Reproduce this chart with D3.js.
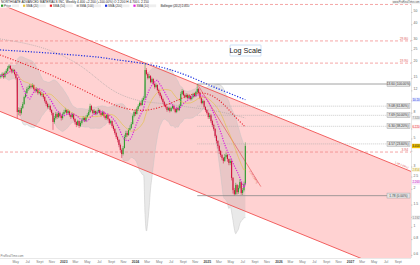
<!DOCTYPE html>
<html>
<head>
<meta charset="utf-8">
<script src="https://cdn.jsdelivr.net/npm/d3@7"></script>
<style>
html, body { margin: 0; padding: 0; background: #fff; }
svg { display: block; font-family: "Liberation Sans", Arial, sans-serif; }
</style>
</head>
<body>
<svg id="chart" width="420" height="265"></svg>
<script>
// weekly candles, first week and first open
const firstWeek = '2022-02-14';
const firstOpen = 15.4;

const closes = [
  15.73,16.32,15.45,16.62,17.23,18.20,18.88,17.87,16.92,17.55,
  16.32,15.17,8.17,8.47,8.02,8.78,9.45,10.73,11.54,12.42,
  12.64,13.11,12.88,13.35,12.42,11.97,12.42,11.54,11.76,11.13,
  11.34,10.73,9.98,9.45,8.95,9.11,8.47,8.02,6.81,7.32,
  7.88,7.46,8.02,7.59,7.32,7.88,8.17,8.47,8.02,8.32,
  7.73,7.46,7.88,7.19,6.81,6.45,6.93,6.33,6.69,7.06,
  7.32,6.93,7.46,7.73,8.17,9.11,8.47,8.02,8.32,7.88,
  8.17,8.47,8.02,7.73,8.17,7.59,7.32,7.73,7.19,6.69,
  6.93,6.33,5.99,5.57,5.18,4.91,4.48,4.09,3.80,4.24,
  5.18,5.57,5.37,5.89,6.10,6.56,7.59,8.17,7.88,8.63,
  9.11,9.62,9.28,10.16,10.54,17.55,16.32,15.17,15.73,14.10,
  14.90,13.60,12.88,13.35,12.19,11.54,10.93,10.35,9.80,9.28,
  8.95,8.47,8.78,8.32,8.78,9.11,8.63,8.17,8.78,8.47,
  9.11,11.34,11.97,11.13,10.73,11.13,10.54,10.93,10.35,10.73,
  11.34,10.93,11.76,12.42,11.54,10.54,9.62,9.98,8.95,8.47,
  8.02,7.46,7.73,6.93,6.45,5.99,5.28,4.82,4.40,4.01,
  3.73,3.53,3.35,3.60,3.73,3.47,3.23,3.35,2.46,1.97,
  1.83,2.16,1.90,2.05,2.28,1.87,1.97,2.20,4.40
];
const highs = [
  16.3,16.8,16.7,17.1,17.9,18.9,19.4,19.2,18.1,18.0,
  17.8,16.5,15.4,8.9,8.8,9.1,9.8,11.0,12.0,12.9,
  13.2,13.6,13.5,13.8,13.5,12.7,12.8,12.6,12.2,12.0,
  11.7,11.5,10.9,10.2,9.7,9.5,9.3,8.6,8.1,7.6,
  8.2,8.1,8.3,8.2,7.8,8.1,8.5,8.8,8.6,8.6,
  8.4,7.9,8.1,8.0,7.3,6.9,7.1,7.0,6.9,7.3,
  7.6,7.5,7.7,8.0,8.5,9.5,9.3,8.6,8.6,8.4,
  8.4,8.8,8.6,8.2,8.4,8.3,7.8,7.9,7.9,7.3,
  7.1,7.0,6.5,6.1,5.7,5.3,5.0,4.6,4.2,4.4,
  5.4,5.8,5.8,6.1,6.4,6.8,7.8,8.5,8.4,8.9,
  9.4,9.9,9.9,10.5,10.9,19.9,18.2,16.8,16.3,16.0,
  15.3,15.1,13.9,13.8,13.5,12.5,11.8,11.2,10.6,10.0,
  9.5,9.1,9.0,9.0,9.0,9.4,9.3,8.8,9.0,9.0,
  9.4,11.8,12.4,12.2,11.4,11.5,11.4,11.2,11.1,11.0,
  11.6,11.6,12.0,13.6,12.7,11.8,10.8,10.3,10.1,9.1,
  8.6,8.2,8.0,7.9,7.1,6.6,6.1,5.4,4.9,4.5,
  4.1,3.8,3.6,3.8,3.9,3.8,3.5,3.5,3.4,2.5,
  2.05,2.25,2.2,2.15,2.4,2.3,2.05,2.3,4.7
];
const lows = [
  15.0,15.4,15.0,15.2,16.3,16.9,17.8,17.4,16.5,16.6,
  15.9,14.8,7.3,7.7,7.6,7.8,8.6,9.3,10.5,11.3,
  12.0,12.3,12.5,12.6,12.1,11.6,11.7,11.2,11.3,10.9,
  10.8,10.4,9.7,9.1,8.7,8.7,8.2,7.7,5.9,6.6,
  7.1,7.2,7.3,7.4,7.0,7.1,7.7,8.0,7.8,7.8,
  7.5,7.2,7.3,7.0,6.5,6.2,6.3,6.1,6.2,6.5,
  6.9,6.8,6.8,7.3,7.6,8.0,8.3,7.8,7.8,7.7,
  7.7,8.0,7.8,7.5,7.6,7.4,7.1,7.1,7.0,6.5,
  6.5,6.1,5.8,5.4,5.0,4.7,4.3,3.9,3.53,3.7,
  4.2,5.0,5.2,5.3,5.8,6.0,6.5,7.4,7.6,7.8,
  8.5,9.0,9.1,9.2,10.0,10.4,15.9,14.8,15.0,13.8,
  13.8,13.3,12.5,12.6,11.9,11.2,10.6,10.1,9.5,9.0,
  8.7,8.2,8.3,8.1,8.2,8.6,8.4,8.0,8.0,8.3,
  8.3,9.0,11.1,10.9,10.5,10.5,10.3,10.3,10.1,10.1,
  10.5,10.7,10.8,11.5,11.3,10.3,9.4,9.4,8.7,8.2,
  7.8,7.2,7.2,6.7,6.2,5.8,5.1,4.6,4.2,3.8,
  3.6,3.4,3.2,3.3,3.5,3.3,3.1,3.1,2.35,1.85,
  1.78,1.80,1.82,1.84,2.0,1.81,1.80,1.92,2.15
];

// long moving averages
const sma200Dates = ['2022-02-10','2022-06-18','2022-10-24','2023-02-28','2023-07-07','2023-09-15','2024-02-12','2024-06-03','2024-08-19','2024-11-04','2025-01-20','2025-04-07','2025-07-14'];
const sma200Vals = [25.3, 24.6, 23.9, 23.0, 22.2, 21.2, 19.9, 18.2, 16.6, 14.9, 13.1, 11.8, 10.2];
const sma50Dates = ['2022-02-10','2022-07-29','2023-01-19','2023-07-07','2023-10-17','2024-02-12','2024-06-03','2024-09-03','2024-11-19','2025-01-20','2025-03-22','2025-05-18','2025-07-14'];
const sma50Vals = [23.1, 18.5, 14.1, 10.35, 8.78, 8.17, 9.11, 10.73, 11.8, 11.3, 9.62, 7.59, 6.22];
const sma100Dates = ['2022-02-10','2022-09-18','2023-04-11','2023-08-27','2024-01-27','2024-05-09','2024-09-24','2025-01-20','2025-05-02','2025-07-14'];
const sma100Vals = [30.9, 27.2, 19.2, 11.76, 9.80, 9.62, 8.95, 8.47, 7.88, 7.32];

// drawings
const channelUpper = [['2022-02-14', 58], ['2024-02-19', 19.9]];
const channelLower = ['2023-10-23', 3.35];
const trendLine = [['2024-11-11', 13.6], ['2025-10-01', 2.1]];
const levels = [57.9, 29.8, 19.9, 3.94];
const fibRatios = [1, 0.618, 0.5, 0.382, 0.236, 0];

const xDomain = ['2022-02-10', '2027-11-05'];
const yDomain = [0.572, 62.8];
const yTicks = [50, 40, 30, 25, 20, 15, 12, 10, 8, 6, 5, 4, 3, 2.5, 2, 1.5, 1.2, 1, 0.8, 0.6];
const monthNames = ['Jan','Feb','Mar','Apr','May','Jun','Jul','Aug','Sept','Oct','Nov','Dec'];

const legendItems = [
  ['#2e9d2e', 'Price'], ['#e6c33a', 'SMA (20)'], ['#e8202a', 'SMA (50)'],
  ['#9e9e9e', 'SMA (100)'], ['#1a2ee0', 'SMA (200)'], ['#e020e0', 'SMA (10)']
];

const W = 411, H = 258;
const parse = d3.timeParse('%Y-%m-%d');
const svg = d3.select('#chart');

const x = d3.scaleTime().domain(xDomain.map(parse)).range([0, W]);
const y = d3.scaleLog().domain(yDomain).range([H, 0]);

const start = parse(firstWeek);
const candles = closes.map((c, i) => ({
  date: d3.timeDay.offset(start, 7 * i),
  open: i === 0 ? firstOpen : closes[i - 1],
  close: c, high: highs[i], low: lows[i]
}));

svg.append('defs').append('clipPath').attr('id', 'plot')
  .append('rect').attr('width', W).attr('height', H);
const plot = svg.append('g').attr('clip-path', 'url(#plot)');

// regression channel
const u1 = [x(parse(channelUpper[0][0])), y(channelUpper[0][1])];
const u2 = [x(parse(channelUpper[1][0])), y(channelUpper[1][1])];
const slope = (u2[1] - u1[1]) / (u2[0] - u1[0]);
const upAt = px => u1[1] + slope * (px - u1[0]);
const la = [x(parse(channelLower[0])), y(channelLower[1])];
const loAt = px => la[1] + slope * (px - la[0]);

plot.append('path')
  .attr('d', `M0,${upAt(0)}L${W},${upAt(W)}L${W},${loAt(W)}L0,${loAt(0)}Z`)
  .attr('fill', '#ff2020').attr('fill-opacity', 0.2);

// bollinger bands (20, 2)
const bb = candles.map((d, i) => {
  const win = closes.slice(Math.max(0, i - 19), i + 1);
  const m = d3.mean(win);
  const sd = win.length > 1 ? Math.sqrt(d3.variance(win) * (win.length - 1) / win.length) : 0;
  return { date: d.date, mid: m, up: m + 2 * sd, lo: Math.max(m - 2 * sd, 0.2) };
});
plot.append('path').datum(bb)
  .attr('d', d3.area().x(d => x(d.date)).y0(d => y(d.lo)).y1(d => y(d.up)).curve(d3.curveMonotoneX))
  .attr('fill', '#9a9a9a').attr('fill-opacity', 0.22);
['up', 'lo'].forEach(k => {
  plot.append('path').datum(bb)
    .attr('d', d3.line().x(d => x(d.date)).y(d => y(d[k])).curve(d3.curveMonotoneX))
    .attr('fill', 'none').attr('stroke', '#c4c4c4').attr('stroke-width', 0.5);
});

// horizontal resistance levels
levels.forEach(v => {
  plot.append('line').attr('x1', 0).attr('x2', W).attr('y1', y(v)).attr('y2', y(v))
    .attr('stroke', '#f08080').attr('stroke-width', 0.7).attr('stroke-dasharray', '3,2');
});
levels.slice(1).forEach(v => {
  svg.append('text').attr('x', 408).attr('y', y(v) - 0.8).attr('text-anchor', 'end')
    .attr('font-size', 3.3).attr('fill', '#e06060').text(v.toFixed(2));
});

// fibonacci retracement
const hiIdx = 130 + d3.maxIndex(highs.slice(130));
const fibHigh = highs[hiIdx];
const fibLow = d3.min(lows.slice(hiIdx));
const fibX = x(candles[hiIdx].date);
fibRatios.forEach(r => {
  const v = fibLow + r * (fibHigh - fibLow);
  const solid = r === 1 || r === 0;
  svg.append('line').attr('x1', fibX).attr('x2', 388).attr('y1', y(v)).attr('y2', y(v))
    .attr('stroke', solid ? '#8a8a8a' : '#a8a8a8')
    .attr('stroke-width', solid ? 0.8 : 0.6)
    .attr('stroke-dasharray', solid ? null : '1,1');
  svg.append('rect').attr('x', 387).attr('y', y(v) - 2.6).attr('width', 23).attr('height', 5)
    .attr('fill', '#e4e4e4').attr('stroke', '#9a9a9a').attr('stroke-width', 0.4);
  svg.append('text').attr('x', 398.5).attr('y', y(v) + 1.1).attr('text-anchor', 'middle')
    .attr('font-size', 3.2).attr('fill', '#333')
    .text(`${v.toFixed(2)} (${(r * 100).toFixed(2)}%)`);
});

// channel lines and trend line
plot.append('line').attr('x1', 0).attr('y1', upAt(0)).attr('x2', W).attr('y2', upAt(W))
  .attr('stroke', '#f05050').attr('stroke-width', 0.9);
plot.append('line').attr('x1', 0).attr('y1', loAt(0)).attr('x2', W).attr('y2', loAt(W))
  .attr('stroke', '#f05050').attr('stroke-width', 0.9);
const t1 = [x(parse(trendLine[0][0])), y(trendLine[0][1])];
const t2 = [x(parse(trendLine[1][0])), y(trendLine[1][1])];
plot.append('line').attr('x1', t1[0]).attr('y1', t1[1]).attr('x2', t2[0]).attr('y2', t2[1])
  .attr('stroke', '#e84848').attr('stroke-width', 0.6);
const tAng = Math.atan2(t2[1] - t1[1], t2[0] - t1[0]) * 180 / Math.PI;
svg.append('text').attr('transform', `translate(${t2[0] - 4},${t2[1] - 3}) rotate(${tAng})`)
  .attr('font-size', 2.8).attr('fill', '#e06060').attr('text-anchor', 'end').text('-1.24 (-84%)');
const cAng = Math.atan(slope) * 180 / Math.PI;
svg.append('text').attr('transform', `translate(408,${upAt(408) - 1.5}) rotate(${cAng})`)
  .attr('font-size', 2.8).attr('fill', '#e06060').attr('text-anchor', 'end').text('1.38 (-94%)');

// long MAs
const lineFrom = (dates, vals) => dates.map((d, i) => ({ date: parse(d), v: vals[i] }));
const maLine = d3.line().x(d => x(d.date)).y(d => y(d.v)).curve(d3.curveBasis);
plot.append('path').datum(lineFrom(sma100Dates, sma100Vals)).attr('d', maLine)
  .attr('fill', 'none').attr('stroke', '#a0a0a0').attr('stroke-width', 0.6).attr('stroke-dasharray', '1,1');

// candles
const bw = 1.05;
const cg = plot.append('g');
candles.forEach(d => {
  const up = d.close >= d.open;
  const col = up ? '#2e9d2e' : '#d0103a';
  const cx = x(d.date);
  cg.append('line').attr('x1', cx).attr('x2', cx).attr('y1', y(d.high)).attr('y2', y(d.low))
    .attr('stroke', col).attr('stroke-width', 0.5);
  const top = y(Math.max(d.open, d.close)), bot = y(Math.min(d.open, d.close));
  cg.append('rect').attr('x', cx - bw / 2).attr('y', top).attr('width', bw)
    .attr('height', Math.max(0.6, bot - top)).attr('fill', col);
});

// SMA 20 (bollinger middle), SMA 10
plot.append('path').datum(bb)
  .attr('d', d3.line().x(d => x(d.date)).y(d => y(d.mid)).curve(d3.curveMonotoneX))
  .attr('fill', 'none').attr('stroke', '#e6c33a').attr('stroke-width', 0.6);
const sma10 = candles.map((d, i) => ({ date: d.date, v: d3.mean(closes.slice(Math.max(0, i - 9), i + 1)) }));
plot.append('path').datum(sma10)
  .attr('d', d3.line().x(d => x(d.date)).y(d => y(d.v)).curve(d3.curveMonotoneX))
  .attr('fill', 'none').attr('stroke', '#e020e0').attr('stroke-width', 1.2).attr('stroke-dasharray', '1.2,1.3');

plot.append('path').datum(lineFrom(sma50Dates, sma50Vals)).attr('d', maLine)
  .attr('fill', 'none').attr('stroke', '#e8202a').attr('stroke-width', 1.1).attr('stroke-dasharray', '1.1,1.6');
plot.append('path').datum(lineFrom(sma200Dates, sma200Vals)).attr('d', maLine)
  .attr('fill', 'none').attr('stroke', '#1a2ee0').attr('stroke-width', 1.2).attr('stroke-dasharray', '1.2,1.6');

// value tags on the price axis
const last = candles[candles.length - 1];
const tags = [
  [sma200Vals[sma200Vals.length - 1], '#1a2ee0', '#e8ecff'],
  [sma100Vals[sma100Vals.length - 1], '#777', '#eeeeee'],
  [sma50Vals[sma50Vals.length - 1], '#e8202a', '#fff0f0'],
  [bb[bb.length - 1].mid, '#b89a10', '#fbf6dc'],
  [sma10[sma10.length - 1].v, '#c010c0', '#fbe6fb'],
  [bb[bb.length - 1].lo, '#777', '#eeeeee'],
  [last.close, '#222', '#f2c200']
];
const tagY = tags.map(t => y(t[0]));

// axes
svg.append('line').attr('x1', W + 0.5).attr('x2', W + 0.5).attr('y1', 0).attr('y2', H)
  .attr('stroke', '#c8c8c8').attr('stroke-width', 0.5);
svg.append('line').attr('x1', 0).attr('x2', W).attr('y1', H + 0.5).attr('y2', H + 0.5)
  .attr('stroke', '#d0d0d0').attr('stroke-width', 0.5);
yTicks.forEach(t => {
  const ty = y(t);
  svg.append('line').attr('x1', W).attr('x2', W + 1.5).attr('y1', ty).attr('y2', ty)
    .attr('stroke', '#999').attr('stroke-width', 0.4);
  if (tagY.some(v => Math.abs(v - (ty - 1.5)) < 4.2)) return;
  svg.append('text').attr('x', 413.5).attr('y', ty - 0.4).attr('font-size', 3.4)
    .attr('fill', '#666').text(t);
});
x.ticks(d3.timeMonth.every(2)).forEach(t => {
  const px = x(t);
  if (px < 8 || px > W - 4) return;
  const isYear = t.getMonth() === 0;
  svg.append('text').attr('x', px).attr('y', 262.5).attr('text-anchor', 'middle')
    .attr('font-size', 3.4).attr('font-weight', isYear ? 'bold' : 'normal')
    .attr('fill', isYear ? '#444' : '#777')
    .text(isYear ? t.getFullYear() : monthNames[t.getMonth()]);
});

tags.forEach(([v, fg, bg]) => {
  svg.append('rect').attr('x', 412).attr('y', y(v) - 2.2).attr('width', 8).attr('height', 4.4).attr('fill', bg);
  svg.append('text').attr('x', 416).attr('y', y(v) + 1).attr('text-anchor', 'middle')
    .attr('font-size', 2.8).attr('fill', fg).text(v >= 10 ? v.toFixed(2) : v.toFixed(3));
});

// Log Scale box
svg.append('rect').attr('x', 230).attr('y', 45).attr('width', 31).attr('height', 11)
  .attr('fill', '#fff').attr('stroke', '#b0cdf0').attr('stroke-width', 0.6).attr('rx', 0.5);
svg.append('text').attr('x', 245.5).attr('y', 53).attr('text-anchor', 'middle')
  .attr('font-size', 7.2).attr('fill', '#222').text('Log Scale');

// header
svg.append('rect').attr('x', 0).attr('y', 0).attr('width', 176).attr('height', 7.6).attr('fill', '#fff');
svg.append('text').attr('x', 1).attr('y', 3.2).attr('font-size', 3.2).attr('fill', '#222')
  .text(`NORTHGATE ADVANCED MATERIALS INC, Weekly  ${last.close.toFixed(3)}  +${(last.close - last.open).toFixed(3)} (+100.00%)  O ${last.open.toFixed(3)}  H ${last.high.toFixed(3)}  L ${last.low.toFixed(3)}`);
let lx = 1;
legendItems.forEach(([c, label]) => {
  svg.append('rect').attr('x', lx).attr('y', 4.6).attr('width', 2.2).attr('height', 2.2).attr('fill', c);
  svg.append('text').attr('x', lx + 3).attr('y', 6.7).attr('font-size', 3).attr('fill', '#333').text(label);
  svg.append('rect').attr('x', lx + 3 + label.length * 1.6).attr('y', 4.4).attr('width', 7).attr('height', 2.8)
    .attr('fill', '#eeeeee');
  lx += label.length * 1.6 + 14;
});
svg.append('rect').attr('x', lx).attr('y', 4.4).attr('width', 27).attr('height', 2.8).attr('fill', '#eeeeee');
svg.append('text').attr('x', lx + 0.5).attr('y', 6.7).attr('font-size', 3).attr('fill', '#333').text('Bollinger (20,2)  2.850');

svg.append('rect').attr('x', 392).attr('y', 0.5).attr('width', 28).attr('height', 3.6).attr('fill', '#f2f2f2');
svg.append('text').attr('x', 419.5).attr('y', 3.1).attr('text-anchor', 'end')
  .attr('font-size', 2.6).attr('fill', '#666').text('www.ProRealTime.com');
svg.append('text').attr('x', 0.5).attr('y', 257.2).attr('font-size', 2.9).attr('fill', '#777').text('ProRealTime.com');
</script>
</body>
</html>
